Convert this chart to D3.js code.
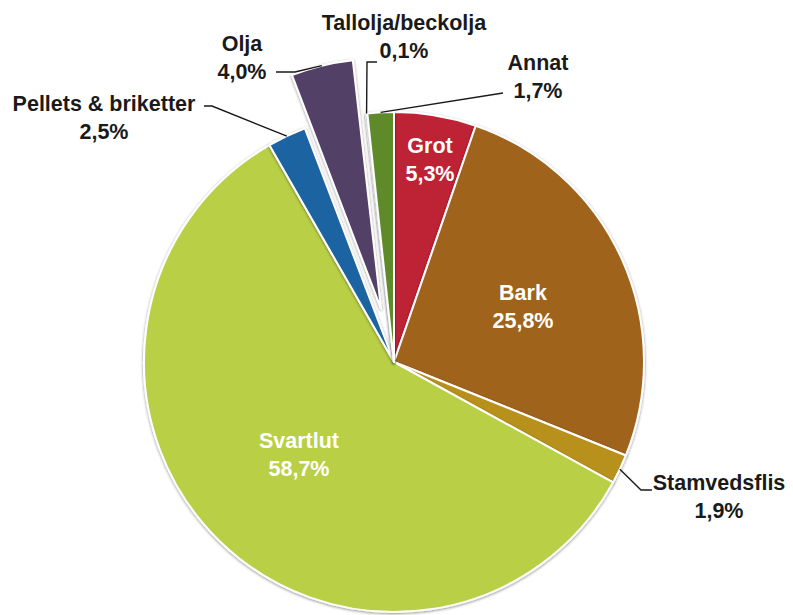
<!DOCTYPE html>
<html>
<head>
<meta charset="utf-8">
<script src="https://cdn.jsdelivr.net/npm/d3@7"></script>
<style>
  body { margin: 0; background: #fff; }
  text { font-family: "Liberation Sans", Arial, sans-serif; font-weight: bold; font-size: 21.5px; }
</style>
</head>
<body>
<div id="chart"></div>
<script>
// slices clockwise from 12 o'clock
var categories = ["Grot", "Bark", "Stamvedsflis", "Svartlut", "Pellets & briketter", "Olja", "Tallolja/beckolja", "Annat"];
var values = [5.3, 25.8, 1.9, 58.7, 2.5, 4.0, 0.1, 1.7];
var valueLabels = ["5,3%", "25,8%", "1,9%", "58,7%", "2,5%", "4,0%", "0,1%", "1,7%"];
var colors = ["#be2336", "#a0631f", "#b8901f", "#b9cf45", "#1f63a1", "#533f66", "#d8d8d8", "#5f8a2b"];
var exploded = [0, 0, 0, 0, 0, 55, 0, 0];

var w = 793, h = 615;
var cx = 394, cy = 362, r = 250;

// label layout: x centre, baseline of first line, inside or outside, leader points after the start
var labelLayout = [
  { x: 430, y: 153, inside: true },
  { x: 523, y: 300, inside: true },
  { x: 719, y: 490, inside: false, leader: [[641, 490], [652, 490]] },
  { x: 299, y: 448, inside: true },
  { x: 104, y: 111, inside: false, leader: [[212, 106], [204, 106]] },
  { x: 242, y: 51, inside: false, leader: [[295, 72], [276, 72]] },
  { x: 404, y: 30, inside: false, leader: [[367, 62], [377, 62]] },
  { x: 538, y: 70, inside: false, leader: [[503, 93]] }
];

var svg = d3.select("#chart")
    .append("svg")
    .attr("width", w)
    .attr("height", h);

//SHADOW FOR THE PIE
var defs = svg.append("defs");
var filter = defs.append("filter")
    .attr("id", "shadow")
    .attr("x", "-10%").attr("y", "-10%")
    .attr("width", "120%").attr("height", "120%");
filter.append("feGaussianBlur")
    .attr("in", "SourceAlpha")
    .attr("stdDeviation", 1.6)
    .attr("result", "blur");
filter.append("feOffset")
    .attr("in", "blur")
    .attr("dx", -0.5).attr("dy", 0.5)
    .attr("result", "off");
filter.append("feComponentTransfer")
    .attr("in", "off")
    .attr("result", "soft")
    .append("feFuncA").attr("type", "linear").attr("slope", 0.45);
var merge = filter.append("feMerge");
merge.append("feMergeNode").attr("in", "soft");
merge.append("feMergeNode").attr("in", "SourceGraphic");

var pie = d3.pie().sort(null).value(function(d){ return d; });
var arcs = pie(values);

var arc = d3.arc().innerRadius(0).outerRadius(r);

var g = svg.append("g")
    .attr("transform", "translate(" + cx + "," + cy + ")");

function offset(d, i){
    var a = (d.startAngle + d.endAngle) / 2;
    return [Math.sin(a) * exploded[i], -Math.cos(a) * exploded[i]];
}

g.selectAll("path.slice")
    .data(arcs)
    .enter()
    .append("path")
    .attr("class", "slice")
    .attr("d", arc)
    .attr("transform", function(d, i){
        var o = offset(d, i);
        return "translate(" + o[0] + "," + o[1] + ")";
    })
    .attr("fill", function(d, i){ return colors[i]; })
    .attr("stroke", "#fff")
    .attr("stroke-width", 2)
    .attr("stroke-linejoin", "round")
    .attr("filter", "url(#shadow)");

//LEADER LINES FOR OUTSIDE LABELS
arcs.forEach(function(d, i){
    var L = labelLayout[i];
    if (L.inside) return;
    var a = (d.startAngle + d.endAngle) / 2;
    var o = offset(d, i);
    var start = [cx + o[0] + Math.sin(a) * r, cy + o[1] - Math.cos(a) * r];
    var pts = [start].concat(L.leader);
    svg.append("path")
        .attr("d", d3.line()(pts))
        .attr("fill", "none")
        .attr("stroke", "#1a1a1a")
        .attr("stroke-width", 1.4);
});

//LABELS
var labels = svg.selectAll("text.lab")
    .data(arcs)
    .enter()
    .append("text")
    .attr("class", "lab")
    .attr("text-anchor", "middle")
    .attr("fill", function(d, i){ return labelLayout[i].inside ? "#fff" : "#1a1a1a"; });

labels.append("tspan")
    .attr("x", function(d, i){ return labelLayout[i].x; })
    .attr("y", function(d, i){ return labelLayout[i].y; })
    .text(function(d, i){ return categories[i]; });

labels.append("tspan")
    .attr("x", function(d, i){ return labelLayout[i].x; })
    .attr("y", function(d, i){ return labelLayout[i].y + 28; })
    .text(function(d, i){ return valueLabels[i]; });
</script>
</body>
</html>
